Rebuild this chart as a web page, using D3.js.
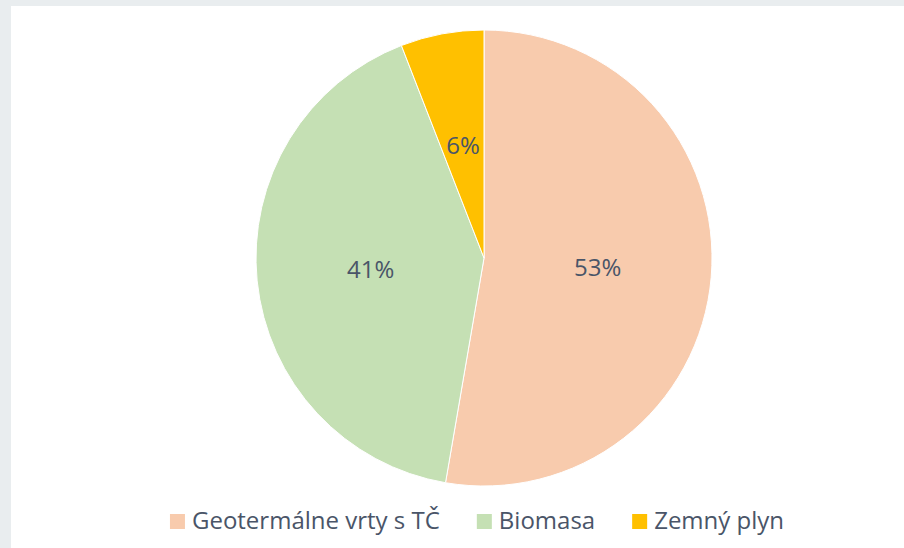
<!DOCTYPE html>
<html>
<head>
<meta charset="utf-8">
<script src="https://cdn.jsdelivr.net/npm/d3@7"></script>
<style>
  body { margin: 0; background: #e9edef; }
  #chart { position: absolute; left: 11px; top: 6px; width: 893px; height: 542px; background: #fff; }
  text { font-family: "Open Sans", sans-serif; fill: #4a5568; }
</style>
</head>
<body>
<div id="chart"></div>
<script>
// data
const categories = ["Geotermálne vrty s TČ", "Biomasa", "Zemný plyn"];
const shares = [52.7, 41.4, 5.9];
const colors = ["#f8cbad", "#c5e0b4", "#ffc000"];

const width = 893, height = 542;
const cx = 473, cy = 252, radius = 228; // center in chart coords

const svg = d3.select("#chart").append("svg")
    .attr("width", width)
    .attr("height", height);

const pie = d3.pie().sort(null).value(d => d.value);
const arcs = pie(categories.map((c, i) => ({ name: c, value: shares[i], color: colors[i] })));
const total = d3.sum(shares);

const arc = d3.arc().innerRadius(0).outerRadius(radius);
const labelArc = d3.arc().innerRadius(114).outerRadius(114);

const g = svg.append("g").attr("transform", `translate(${cx},${cy})`);

g.selectAll("path")
    .data(arcs)
    .join("path")
    .attr("d", arc)
    .attr("fill", d => d.data.color)
    .attr("stroke", "#fff")
    .attr("stroke-width", 1);

g.selectAll("text.lbl")
    .data(arcs)
    .join("text")
    .attr("class", "lbl")
    .attr("transform", d => `translate(${labelArc.centroid(d)})`)
    .attr("text-anchor", "middle")
    .attr("dy", "0.35em")
    .style("font-size", "24px")
    .text(d => Math.round(d.data.value / total * 100) + "%");

// legend, centered under the pie
const legend = svg.append("g").attr("transform", "translate(0,515)");
const items = legend.selectAll("g")
    .data(arcs)
    .join("g");
items.append("rect")
    .attr("width", 15).attr("height", 15)
    .attr("y", -7)
    .attr("fill", d => d.data.color);
items.append("text")
    .attr("x", 22)
    .attr("dy", "0.35em")
    .style("font-size", "24px")
    .text(d => d.data.name);

let widths = [];
items.each(function () { widths.push(this.getBBox().width); });
const gap = 37;
const totalW = d3.sum(widths) + gap * (widths.length - 1);
let x = 466 - totalW / 2;
items.attr("transform", (d, i) => {
    const t = `translate(${x},0)`;
    x += widths[i] + gap;
    return t;
});
</script>
</body>
</html>
